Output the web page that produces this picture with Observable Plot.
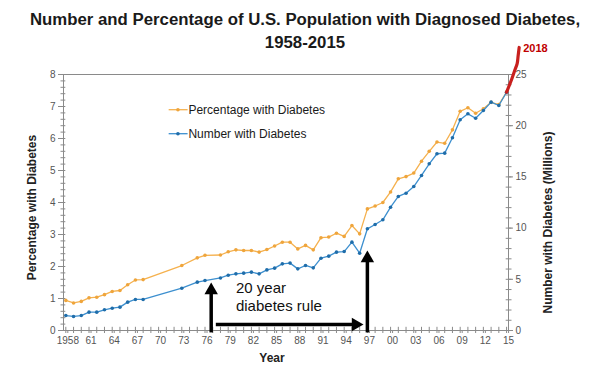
<!DOCTYPE html>
<html><head><meta charset="utf-8">
<script src="https://cdn.jsdelivr.net/npm/d3@7"></script>
<script src="https://cdn.jsdelivr.net/npm/@observablehq/plot@0.6"></script>
<style>
body{margin:0;background:#fff;font-family:"Liberation Sans",Arial,sans-serif}
#wrap{position:relative;width:600px;height:370px;overflow:hidden}
#title{position:absolute;left:0;top:8px;width:610px;text-align:center;font-weight:bold;font-size:16.8px;line-height:23px;color:#1a1a1a;z-index:2}
</style></head><body>
<div id="wrap"><div id="title">Number and Percentage of U.S. Population with Diagnosed Diabetes,<br>1958-2015</div></div>
<script>
// ---- data ----
const years = [1958,1959,1960,1961,1962,1963,1964,1965,1966,1967,1968,1973,1975,1976,
  1978,1979,1980,1981,1982,1983,1984,1985,1986,1987,1988,1989,1990,1991,1992,1993,1994,1995,1996,1997,
  1998,1999,2000,2001,2002,2003,2004,2005,2006,2007,2008,2009,2010,2011,2012,2013,2014,2015];
const pctValues = [0.94,0.86,0.91,1.02,1.04,1.12,1.22,1.25,1.43,1.58,1.59,2.03,2.27,2.35,
  2.36,2.46,2.52,2.50,2.50,2.45,2.53,2.64,2.76,2.76,2.55,2.66,2.52,2.90,2.92,3.04,2.94,3.28,3.02,3.80,
  3.89,4.00,4.33,4.74,4.81,4.92,5.29,5.60,5.89,5.85,6.27,6.85,6.96,6.79,6.93,7.13,7.06,7.45];
const numberValues = [1.46,1.37,1.46,1.79,1.79,2.02,2.18,2.28,2.77,3.03,3.03,4.13,4.72,4.88,
  5.13,5.40,5.53,5.60,5.70,5.53,5.92,6.09,6.51,6.58,6.02,6.35,6.12,7.06,7.26,7.65,7.71,8.63,7.55,9.93,
  10.35,10.81,12.04,13.09,13.41,14.06,15.14,16.28,17.26,17.32,18.82,20.58,21.16,20.73,21.48,22.30,21.97,23.27];
// hand-drawn red extension toward 2018 (millions)
const projYears = [2015,2015.6,2016.05,2016.37,2016.5,2016.63];
const projNumbers = [23.27,24.41,25.39,26.07,26.86,27.64];
const projLabel = "2018";
const leftTicks = [0,1,2,3,4,5,6,7,8];
const leftMinor = d3.range(0,8.01,0.2);
const rightTicks = [0,5,10,15,20,25];
const rightMinor = d3.range(0,25.01,1);
const xTickYears = d3.range(1958,2016,3);
const xMinorYears = d3.range(1958,2016,1);
const seriesNames = ["Percentage with Diabetes","Number with Diabetes"];
const axisTitles = ["Percentage with Diabetes","Number with Diabetes (Millions)","Year"];
const ruleStart = 1976.8, ruleEnd = 1997;
const ruleText = "20 year\ndiabetes rule";

// ---- build ----
const xDomain = [1957.7, 2015.25];
const yDomain = [0, 8];
const toPct = v => v * 8 / 25;
const data = years.map((year,i)=>({year, pct: pctValues[i], num: numberValues[i]}));
const proj = projYears.map((year,i)=>({year, num: projNumbers[i]}));
const orange = "#F5B14E", orangeDot = "#EFA53C", blue = "#3C8FCF", blueDot = "#1F6DAA";
const axisGray = "#8a8a8a", labelGray = "#555";
const fmtYear = d => d === 1958 ? "1958" : String(d % 100).padStart(2, "0");

const chart = Plot.plot({
  width: 600, height: 370,
  marginLeft: 63, marginRight: 92, marginTop: 74, marginBottom: 40,
  style: {fontFamily: "'Liberation Sans', Arial, sans-serif", background: "transparent", overflow: "visible"},
  x: {domain: xDomain},
  y: {domain: yDomain},
  marks: [
    Plot.frame({stroke: axisGray}),
    // left axis
    Plot.axisY({ticks: leftMinor, tickSize: 2.5, tickFormat: () => "", stroke: axisGray, label: null}),
    Plot.ruleY(leftMinor, {y: d => d, x1: xDomain[0], x2: xDomain[0] + 0.3, stroke: axisGray}),
    Plot.axisY({ticks: leftTicks, tickSize: 5, tickPadding: 3, fontSize: 10, fill: labelGray, stroke: axisGray, label: null}),
    // right axis (millions)
    Plot.axisY({anchor: "right", ticks: rightMinor.map(toPct), tickSize: 2.5, tickFormat: () => "", stroke: axisGray, label: null}),
    Plot.ruleY(rightMinor, {y: d => toPct(d), x1: xDomain[1] - 0.3, x2: xDomain[1], stroke: axisGray}),
    Plot.axisY({anchor: "right", ticks: rightTicks.map(toPct), tickFormat: d => Math.round(d * 25 / 8), tickSize: 4, tickPadding: 3, fontSize: 10, fill: labelGray, stroke: axisGray, label: null}),
    // x axis
    Plot.axisX({ticks: xMinorYears, tickSize: 3, tickFormat: () => "", stroke: axisGray, label: null}),
    Plot.ruleX(xMinorYears, {x: d => d, y1: 0, y2: 0.1, stroke: axisGray}),
    Plot.axisX({ticks: xTickYears, tickSize: 3, tickPadding: 3, tickFormat: fmtYear, fontSize: 10, fill: labelGray, stroke: axisGray, label: null, dx: 2}),
    // axis titles
    Plot.text([axisTitles[0]], {frameAnchor: "left", text: d => d, textAnchor: "middle", lineAnchor: "middle", dx: -31, dy: 5, rotate: -90, fontWeight: "bold", fontSize: 12, fill: "#222"}),
    Plot.text([axisTitles[1]], {frameAnchor: "right", text: d => d, textAnchor: "middle", lineAnchor: "middle", dx: 40, dy: 20, rotate: -90, fontWeight: "bold", fontSize: 12, fill: "#222"}),
    Plot.text([axisTitles[2]], {frameAnchor: "bottom", text: d => d, textAnchor: "middle", lineAnchor: "middle", dx: -14, dy: 28, fontWeight: "bold", fontSize: 12, fill: "#222"}),
    // series
    Plot.line(data, {x: "year", y: "pct", stroke: orange, strokeWidth: 1.3}),
    Plot.dot(data, {x: "year", y: "pct", r: 1.8, fill: orangeDot}),
    Plot.line(data, {x: "year", y: d => toPct(d.num), stroke: blue, strokeWidth: 1.3}),
    Plot.dot(data, {x: "year", y: d => toPct(d.num), r: 1.8, fill: blueDot}),
    // red projection
    Plot.line(proj, {x: "year", y: d => toPct(d.num), stroke: "#C8201E", strokeWidth: 3.2, curve: "monotone-y"}),
    Plot.text([proj[proj.length - 1]], {x: "year", y: d => toPct(d.num), text: () => projLabel, dx: 4, dy: 1, textAnchor: "start", fill: "#C00000", fontWeight: "bold", fontSize: 11}),
    // legend
    Plot.link([0, 1], {x1: 1971.3, x2: 1973.75, y1: i => [6.9, 6.15][i], y2: i => [6.9, 6.15][i], stroke: i => [orange, blue][i], strokeWidth: 1.3}),
    Plot.dot([0, 1], {x: 1972.5, y: i => [6.9, 6.15][i], r: 1.8, fill: i => [orangeDot, blueDot][i]}),
    Plot.text([0, 1], {x: 1973.85, y: i => [6.9, 6.15][i], text: i => seriesNames[i], textAnchor: "start", fontSize: 12, fill: "#1a1a1a"}),
    // 20 year rule arrows
    Plot.link([ruleStart], {x1: d => d, x2: d => d, y1: -0.06, y2: 1.3, stroke: "black", strokeWidth: 3.5}),
    Plot.dot([ruleStart], {x: d => d, y: 1.5, dy: 7.8, symbol: "triangle", r: 5, fill: "black"}),
    Plot.link([ruleEnd], {x1: d => d, x2: d => d, y1: -0.06, y2: 2.3, stroke: "black", strokeWidth: 3.5}),
    Plot.dot([ruleEnd], {x: d => d, y: 2.5, dy: 7.8, symbol: "triangle", r: 5, fill: "black"}),
    Plot.link([0], {x1: ruleStart + 0.6, x2: ruleEnd - 1.5, y1: 0.19, y2: 0.19, stroke: "black", strokeWidth: 3.5}),
    Plot.dot([0], {x: ruleEnd - 0.5, y: 0.19, dx: -7.8, rotate: 90, symbol: "triangle", r: 5, fill: "black"}),
    Plot.text([ruleText], {x: ruleStart + 3.2, y: 1.06, text: d => d, textAnchor: "start", lineAnchor: "middle", lineHeight: 1.2, fontSize: 15, fill: "#111"})
  ]
});
document.getElementById("wrap").appendChild(chart);
</script>
</body></html>
